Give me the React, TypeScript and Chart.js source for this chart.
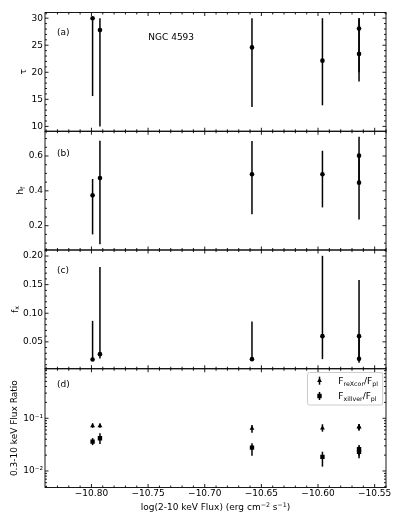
import React, { useEffect, useRef } from 'react';
import { Chart, registerables } from 'chart.js';

Chart.register(...registerables);

// ---------------- data ----------------
const fluxLog = [-10.799, -10.7925, -10.6583, -10.5961, -10.5638, -10.5638];

const tau = [30.0, 27.8, 24.6, 22.15, 28.1, 23.4];
const tauLow = [15.6, 10.0, 13.6, 13.9, 20.0, 18.3];
const tauHigh = [30.0, 30.0, 30.0, 30.0, 30.0, 30.0];

const hf = [0.374, 0.474, 0.495, 0.495, 0.602, 0.447];
const hfLow = [0.15, 0.094, 0.265, 0.305, 0.45, 0.236];
const hfHigh = [0.468, 0.688, 0.686, 0.63, 0.711, 0.6];

const fx = [0.0192, 0.0285, 0.0198, 0.06, 0.06, 0.0203];
const fxLow = [0.0192, 0.021, 0.0198, 0.0198, 0.02, 0.0133];
const fxHigh = [0.0867, 0.181, 0.0857, 0.2003, 0.158, 0.06];

const ratioRexcor = [0.072, 0.072, 0.0645, 0.065, 0.068, 0.069];
const ratioRexcorLow = [0.066, 0.066, 0.0533, 0.0557, 0.058, 0.06];
const ratioRexcorHigh = [0.08, 0.08, 0.0746, 0.077, 0.077, 0.078];

const ratioXillver = [0.036, 0.0417, 0.0277, 0.0185, 0.026, 0.023];
const ratioXillverLow = [0.031, 0.0325, 0.0195, 0.0121, 0.0195, 0.0174];
const ratioXillverHigh = [0.042, 0.052, 0.0335, 0.0232, 0.031, 0.029];

const xTickValues = [-10.8, -10.75, -10.7, -10.65, -10.6, -10.55];
const tauTicks = [10, 15, 20, 25, 30];
const hfTicks = [0.2, 0.4, 0.6];
const fxTicks = [0.05, 0.1, 0.15, 0.2];
const ratioTicks = [0.01, 0.1];

// ---------------- layout ----------------
const W = 399;
const H = 516;
const PLOT_LEFT = 45;
const PLOT_RIGHT = 386;
const X_MIN = -10.841;
const X_MAX = -10.54;
const X_AXIS_H = 20;
const FAMILY = '"DejaVu Sans", sans-serif';
const FS = 9;
const MINUS = '\u2212';

Chart.defaults.font.family = FAMILY;

type Part = { t: string; s?: number; dy?: number };
type Series = { y: number[]; lo: number[]; hi: number[]; style: string; radius: number };
type PanelDef = {
  key: string;
  top: number;
  bottom: number;
  scaleType: 'linear' | 'logarithmic';
  min: number;
  max: number;
  ticks: number[];
  minor: number[];
  fmt: (v: number) => string;
  title: Part[];
  titleX: number;
  tag: string;
  tagX: number;
  tagY: number;
  series: Series[];
  legend?: boolean;
  name?: boolean;
};

function linearMinor(min: number, max: number, step: number, majors: number[]) {
  const out: number[] = [];
  for (let k = Math.ceil(min / step - 1e-9); k * step <= max + 1e-9; k++) {
    const v = k * step;
    if (!majors.some((m) => Math.abs(m - v) < step * 1e-3)) out.push(v);
  }
  return out;
}
function logMinor(min: number, max: number) {
  const out: number[] = [];
  for (let e = Math.floor(Math.log10(min)); e <= Math.ceil(Math.log10(max)); e++) {
    for (let m = 2; m <= 9; m++) {
      const v = m * Math.pow(10, e);
      if (v >= min && v <= max) out.push(v);
    }
  }
  return out;
}
function fmtFixed(v: number, d: number) {
  const s = Math.abs(v).toFixed(d);
  return (v < 0 ? MINUS : '') + s;
}
const SUP: Record<string, string> = { '-': '\u207B', '0': '\u2070', '1': '\u00B9', '2': '\u00B2', '3': '\u00B3' };
function fmtPow(v: number) {
  const e = String(Math.round(Math.log10(v)));
  return '10' + e.split('').map((c) => SUP[c] || c).join('');
}

const PANEL_TOP = 12.5;
const PANEL_H = 118.75;
const pTop = (i: number) => PANEL_TOP + i * PANEL_H;

const PANELS: PanelDef[] = [
  {
    key: 'a', top: pTop(0), bottom: pTop(1), scaleType: 'linear', min: 9.1, max: 31.05,
    ticks: tauTicks, minor: linearMinor(9.1, 31.05, 1, tauTicks), fmt: (v) => String(Math.round(v)),
    title: [{ t: '\u03C4' }], titleX: 25.5, tag: '(a)', tagX: 57, tagY: 34.5,
    series: [{ y: tau, lo: tauLow, hi: tauHigh, style: 'circle', radius: 2.3 }], name: true,
  },
  {
    key: 'b', top: pTop(1), bottom: pTop(2), scaleType: 'linear', min: 0.0605, max: 0.742,
    ticks: hfTicks, minor: linearMinor(0.0605, 0.742, 0.05, hfTicks), fmt: (v) => v.toFixed(1),
    title: [{ t: 'h' }, { t: 'f', s: 0.7, dy: 1.8 }], titleX: 23, tag: '(b)', tagX: 57, tagY: 156,
    series: [{ y: hf, lo: hfLow, hi: hfHigh, style: 'circle', radius: 2.3 }],
  },
  {
    key: 'c', top: pTop(2), bottom: pTop(3), scaleType: 'linear', min: 0.003, max: 0.2105,
    ticks: fxTicks, minor: linearMinor(0.003, 0.2105, 0.01, fxTicks), fmt: (v) => v.toFixed(2),
    title: [{ t: 'f' }, { t: 'x', s: 0.7, dy: 1.8 }], titleX: 17.5, tag: '(c)', tagX: 57, tagY: 272.8,
    series: [{ y: fx, lo: fxLow, hi: fxHigh, style: 'circle', radius: 2.3 }],
  },
  {
    key: 'd', top: pTop(3), bottom: pTop(4), scaleType: 'logarithmic', min: 0.00486, max: 0.87,
    ticks: ratioTicks, minor: logMinor(0.00486, 0.87), fmt: fmtPow,
    title: [{ t: '0.3-10 keV Flux Ratio' }], titleX: 16.8, tag: '(d)', tagX: 57, tagY: 387,
    series: [
      { y: ratioRexcor, lo: ratioRexcorLow, hi: ratioRexcorHigh, style: 'triangle', radius: 2.8 },
      { y: ratioXillver, lo: ratioXillverLow, hi: ratioXillverHigh, style: 'rect', radius: 3.1 },
    ],
    legend: true,
  },
];

const xMinor = (() => {
  const out: number[] = [];
  for (let k = Math.ceil(X_MIN * 100); k <= Math.floor(X_MAX * 100); k++) {
    if (k % 5 !== 0) out.push(k / 100);
  }
  return out;
})();

// ---------------- drawing helpers ----------------
function richWidth(ctx: CanvasRenderingContext2D, parts: Part[], size: number) {
  let w = 0;
  for (const p of parts) {
    ctx.font = `${size * (p.s ?? 1)}px ${FAMILY}`;
    w += ctx.measureText(p.t).width;
  }
  return w;
}
function drawRich(ctx: CanvasRenderingContext2D, parts: Part[], x: number, baseline: number, size: number, align: 'left' | 'center') {
  const w = richWidth(ctx, parts, size);
  let cx = align === 'center' ? x - w / 2 : x;
  ctx.textAlign = 'left';
  ctx.textBaseline = 'alphabetic';
  for (const p of parts) {
    ctx.font = `${size * (p.s ?? 1)}px ${FAMILY}`;
    ctx.fillText(p.t, cx, baseline + (p.dy ?? 0));
    cx += ctx.measureText(p.t).width;
  }
}

function makePlugin(p: PanelDef, isBottom: boolean) {
  return {
    id: 'panel_' + p.key,
    beforeDatasetsDraw(chart: any) {
      const ctx: CanvasRenderingContext2D = chart.ctx;
      const xs = chart.scales.x;
      const ys = chart.scales.y;
      ctx.save();
      ctx.strokeStyle = '#000';
      ctx.lineWidth = 1.5;
      for (const s of p.series) {
        fluxLog.forEach((xv, i) => {
          const px = xs.getPixelForValue(xv);
          ctx.beginPath();
          ctx.moveTo(px, ys.getPixelForValue(s.lo[i]));
          ctx.lineTo(px, ys.getPixelForValue(s.hi[i]));
          ctx.stroke();
        });
      }
      ctx.restore();
    },
    afterDraw(chart: any) {
      const ctx: CanvasRenderingContext2D = chart.ctx;
      const a = chart.chartArea;
      const xs = chart.scales.x;
      const ys = chart.scales.y;
      ctx.save();
      ctx.strokeStyle = '#000';
      ctx.lineWidth = 0.9;
      ctx.strokeRect(a.left, a.top, a.right - a.left, a.bottom - a.top);
      const MAJ = 3.5;
      const MIN = 2;
      ctx.beginPath();
      const xt = (v: number, L: number) => {
        const px = xs.getPixelForValue(v);
        ctx.moveTo(px, a.top);
        ctx.lineTo(px, a.top + L);
        ctx.moveTo(px, a.bottom);
        ctx.lineTo(px, a.bottom - L);
      };
      const yt = (v: number, L: number) => {
        const py = ys.getPixelForValue(v);
        ctx.moveTo(a.left, py);
        ctx.lineTo(a.left + L, py);
        ctx.moveTo(a.right, py);
        ctx.lineTo(a.right - L, py);
      };
      xTickValues.forEach((v) => xt(v, MAJ));
      xMinor.forEach((v) => xt(v, MIN));
      p.ticks.forEach((v) => yt(v, MAJ));
      p.minor.forEach((v) => yt(v, MIN));
      ctx.stroke();

      ctx.fillStyle = '#000';
      drawRich(ctx, [{ t: p.tag }], p.tagX, p.tagY, FS, 'left');
      if (p.name) drawRich(ctx, [{ t: 'NGC 4593' }], 148.3, 40, FS, 'left');

      ctx.save();
      ctx.translate(p.titleX, (a.top + a.bottom) / 2);
      ctx.rotate(-Math.PI / 2);
      drawRich(ctx, p.title, 0, 0, FS, 'center');
      ctx.restore();

      if (p.legend) {
        const bx = 307.5, by = 372.5, bw = 75.2, bh = 32.5, r = 2;
        ctx.beginPath();
        ctx.moveTo(bx + r, by);
        ctx.lineTo(bx + bw - r, by);
        ctx.arcTo(bx + bw, by, bx + bw, by + r, r);
        ctx.lineTo(bx + bw, by + bh - r);
        ctx.arcTo(bx + bw, by + bh, bx + bw - r, by + bh, r);
        ctx.lineTo(bx + r, by + bh);
        ctx.arcTo(bx, by + bh, bx, by + bh - r, r);
        ctx.lineTo(bx, by + r);
        ctx.arcTo(bx, by, bx + r, by, r);
        ctx.closePath();
        ctx.fillStyle = 'rgba(255,255,255,0.8)';
        ctx.fill();
        ctx.strokeStyle = '#cccccc';
        ctx.lineWidth = 1;
        ctx.stroke();

        const mx = 319.5;
        const rows = [
          { y: 380.7, style: 'triangle', radius: 2.8, parts: [{ t: 'F' }, { t: 'reXcor', s: 0.7, dy: 1.8 }, { t: '/F' }, { t: 'pl', s: 0.7, dy: 1.8 }] },
          { y: 396, style: 'rect', radius: 3.1, parts: [{ t: 'F' }, { t: 'xillver', s: 0.7, dy: 1.8 }, { t: '/F' }, { t: 'pl', s: 0.7, dy: 1.8 }] },
        ];
        for (const row of rows) {
          ctx.strokeStyle = '#000';
          ctx.lineWidth = 1.5;
          ctx.beginPath();
          ctx.moveTo(mx, row.y - 4);
          ctx.lineTo(mx, row.y + 4);
          ctx.stroke();
          ctx.fillStyle = '#000';
          if (row.style === 'triangle') {
            const rr = row.radius;
            ctx.beginPath();
            ctx.moveTo(mx, row.y - rr);
            ctx.lineTo(mx + rr * 0.866, row.y + rr * 0.5);
            ctx.lineTo(mx - rr * 0.866, row.y + rr * 0.5);
            ctx.closePath();
            ctx.fill();
          } else {
            const hs = row.radius * Math.SQRT1_2;
            ctx.fillRect(mx - hs, row.y - hs, hs * 2, hs * 2);
          }
          drawRich(ctx, row.parts, 338.3, row.y + 3.2, FS, 'left');
        }
      }

      if (isBottom) {
        ctx.fillStyle = '#000';
        drawRich(
          ctx,
          [
            { t: 'log(2-10 keV Flux) (erg cm' },
            { t: MINUS + '2', s: 0.7, dy: -3.5 },
            { t: ' s' },
            { t: MINUS + '1', s: 0.7, dy: -3.5 },
            { t: ')' },
          ],
          (a.left + a.right) / 2,
          510,
          FS,
          'center'
        );
      }
      ctx.restore();
    },
  };
}

function buildConfig(p: PanelDef, isBottom: boolean): any {
  const font = { family: FAMILY, size: FS };
  return {
    type: 'scatter',
    data: {
      datasets: p.series.map((s) => ({
        data: fluxLog.map((x, i) => ({ x, y: s.y[i] })),
        pointStyle: s.style,
        pointRadius: s.radius,
        pointHoverRadius: s.radius,
        backgroundColor: '#000',
        borderColor: '#000',
        borderWidth: 0,
        showLine: false,
      })),
    },
    options: {
      responsive: false,
      animation: false,
      events: [],
      layout: {
        padding: {
          left: 0,
          right: W - PLOT_RIGHT,
          top: p.top,
          bottom: isBottom ? H - p.bottom - X_AXIS_H : H - p.bottom,
        },
      },
      plugins: { legend: { display: false }, tooltip: { enabled: false } },
      scales: {
        x: {
          type: 'linear',
          min: X_MIN,
          max: X_MAX,
          display: isBottom,
          grid: { display: false, drawTicks: false },
          border: { display: false },
          ticks: {
            font,
            color: '#000',
            padding: 1,
            maxRotation: 0,
            autoSkip: false,
            callback: (v: any) => fmtFixed(Number(v), 2),
          },
          afterBuildTicks: (s: any) => {
            s.ticks = xTickValues.map((v) => ({ value: v }));
          },
          afterFit: (s: any) => {
            s.height = isBottom ? X_AXIS_H : 0;
          },
        },
        y: {
          type: p.scaleType,
          min: p.min,
          max: p.max,
          grid: { display: false, drawTicks: false },
          border: { display: false },
          ticks: {
            font,
            color: '#000',
            padding: 2,
            autoSkip: false,
            callback: (v: any) => p.fmt(Number(v)),
          },
          afterBuildTicks: (s: any) => {
            s.ticks = p.ticks.map((v) => ({ value: v }));
          },
          afterFit: (s: any) => {
            s.width = PLOT_LEFT;
          },
        },
      },
    },
    plugins: [makePlugin(p, isBottom)],
  };
}

function PanelChart({ def, isBottom }: { def: PanelDef; isBottom: boolean }) {
  const ref = useRef<HTMLCanvasElement>(null);
  useEffect(() => {
    if (!ref.current) return;
    const chart = new Chart(ref.current, buildConfig(def, isBottom));
    return () => chart.destroy();
  }, [def, isBottom]);
  return <canvas ref={ref} width={W} height={H} style={{ position: 'absolute', left: 0, top: 0 }} />;
}

export default function App() {
  return (
    <div style={{ position: 'fixed', left: 0, top: 0, width: W, height: H, background: '#fff' }}>
      {PANELS.map((p, i) => (
        <PanelChart key={p.key} def={p} isBottom={i === PANELS.length - 1} />
      ))}
    </div>
  );
}
